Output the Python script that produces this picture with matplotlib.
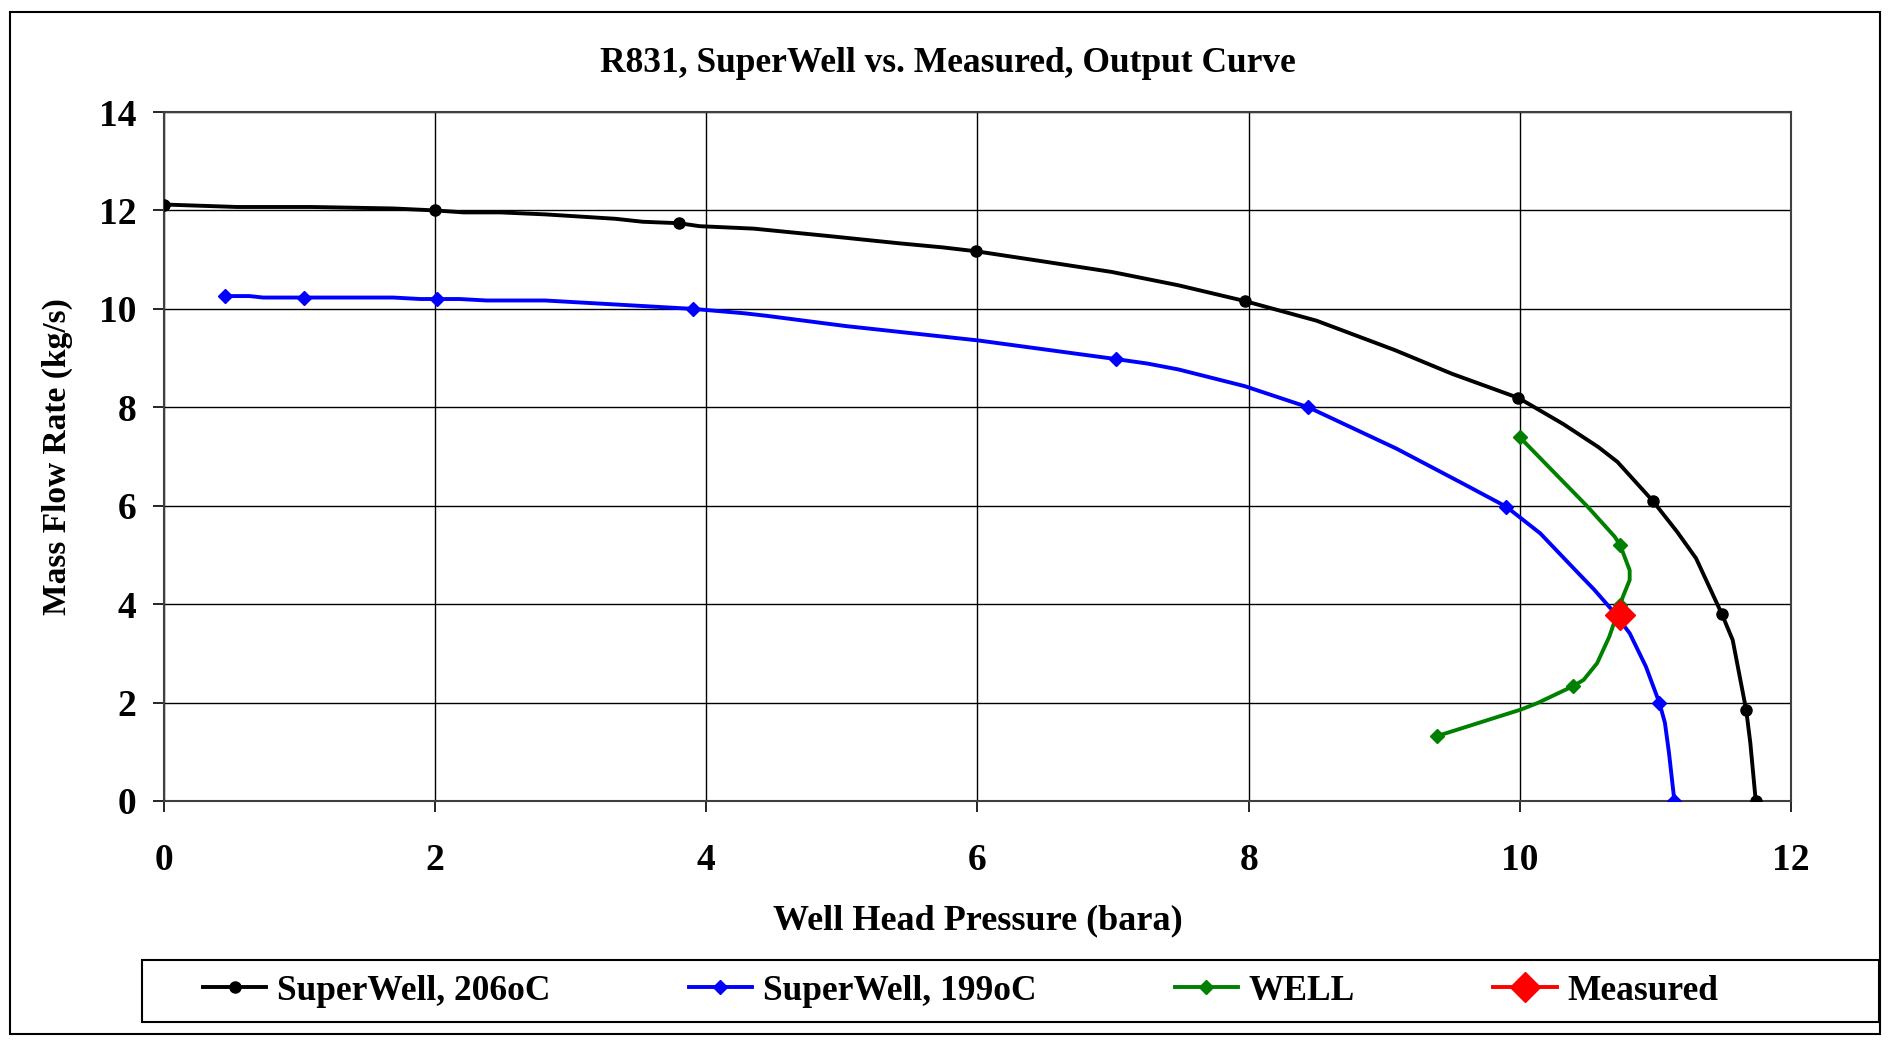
import matplotlib.pyplot as plt
from matplotlib.patches import Rectangle

plt.rcParams['font.family'] = ['Liberation Serif', 'DejaVu Serif']
plt.rcParams['font.weight'] = 'bold'

# SuperWell, 206oC (smoothed line points, markers at selected indices)
sw206_x = [0.0, 0.54, 1.09, 1.69, 2.0, 2.21, 2.48, 2.81, 3.33, 3.53, 3.80, 3.95, 4.35, 4.9, 5.43,
           5.74, 5.99, 6.47, 6.99, 7.48, 7.97, 8.50, 9.08, 9.5, 9.99, 10.32, 10.58, 10.72, 10.98,
           11.16, 11.30, 11.49, 11.57, 11.67, 11.70, 11.74]
sw206_y = [12.12, 12.07, 12.07, 12.04, 12.0, 11.96, 11.96, 11.92, 11.83, 11.77, 11.74, 11.68, 11.63,
           11.48, 11.33, 11.25, 11.17, 10.97, 10.75, 10.48, 10.16, 9.76, 9.16, 8.68, 8.19, 7.66,
           7.19, 6.89, 6.10, 5.47, 4.93, 3.80, 3.27, 1.84, 1.18, 0.0]
sw206_marks = [0, 4, 10, 16, 20, 24, 28, 31, 33, 35]

# SuperWell, 199oC
sw199_x = [0.45, 0.63, 0.73, 1.03, 1.69, 1.89, 2.01, 2.18, 2.38, 2.81, 3.9, 4.28, 4.44, 5.03, 6.0,
           7.02, 7.25, 7.48, 7.97, 8.44, 9.09, 9.58, 9.90, 10.15, 10.41, 10.55, 10.68, 10.81,
           10.93, 11.03, 11.07, 11.10, 11.14]
sw199_y = [10.26, 10.26, 10.23, 10.23, 10.23, 10.2, 10.2, 10.2, 10.17, 10.17, 10.0, 9.91, 9.86,
           9.65, 9.36, 8.98, 8.89, 8.77, 8.43, 8.0, 7.16, 6.45, 5.98, 5.44, 4.69, 4.29, 3.88,
           3.41, 2.73, 1.99, 1.59, 0.98, 0.0]
sw199_marks = [0, 3, 6, 10, 15, 19, 22, 29, 32]

# WELL
well_x = [10.0, 10.5, 10.70, 10.74, 10.81, 10.81, 10.76, 10.74, 10.66, 10.57, 10.47, 10.39,
          10.13, 10.01, 9.39]
well_y = [7.39, 5.98, 5.37, 5.20, 4.69, 4.49, 4.15, 3.98, 3.34, 2.80, 2.46, 2.33, 1.99, 1.86, 1.32]
well_marks = [0, 3, 7, 11, 14]

# Measured
meas_x = [10.74]
meas_y = [3.78]

W, H = 1889, 1041
fig = plt.figure(figsize=(W / 100, H / 100), dpi=100)
ax = fig.add_axes([164 / W, 1 - 801 / H, (1791 - 164) / W, (801 - 112) / H])

ax.plot(sw206_x, sw206_y, color='black', lw=2.8, marker='o', ms=8,
        markevery=sw206_marks, label='SuperWell, 206oC', zorder=3)
ax.plot(sw199_x, sw199_y, color='blue', lw=2.8, marker='D', ms=7.5,
        markevery=sw199_marks, label='SuperWell, 199oC', zorder=3)
ax.plot(well_x, well_y, color='green', lw=2.8, marker='D', ms=7.5,
        markevery=well_marks, label='WELL', zorder=3)
ax.plot(meas_x, meas_y, color='red', lw=2.8, marker='D', ms=15, ls='-',
        label='Measured', zorder=4)

ax.set_xlim(0, 12)
ax.set_ylim(0, 14)
ax.set_xticks(range(0, 13, 2))
ax.set_yticks(range(0, 15, 2))
ax.grid(True, color='black', lw=1.0)
ax.set_axisbelow(True)
for s in ax.spines.values():
    s.set_color('#404040')
    s.set_linewidth(1.5)
ax.tick_params(labelsize=27, length=8, width=1.2)
ax.tick_params(axis='x', pad=22)
ax.tick_params(axis='y', pad=12)
for lab in ax.get_xticklabels() + ax.get_yticklabels():
    lab.set_fontweight('bold')

ax.set_xlabel('Well Head Pressure (bara)', fontsize=26, fontweight='bold')
ax.set_ylabel('Mass Flow Rate (kg/s)', fontsize=24, fontweight='bold')
ax.xaxis.set_label_coords(0.5, -0.150)
ax.yaxis.set_label_coords(-0.056, 0.5)
fig.text(948 / W, 1 - 64 / H, 'R831, SuperWell vs. Measured, Output Curve',
         ha='center', va='center', fontsize=25.5, fontweight='bold')

leg = fig.legend(loc='center left', ncol=4, bbox_to_anchor=(185 / W, 1 - 991 / H),
                 frameon=False, fontsize=25.5, borderpad=0, handlelength=1.8,
                 handletextpad=0.3, columnspacing=3.9)
for t in leg.get_texts():
    t.set_fontweight('bold')

# legend box and outer chart border
fig.patches.append(Rectangle((142 / W, 1 - 1022 / H), (1879 - 142) / W, 62 / H,
                             transform=fig.transFigure, fill=False, edgecolor='black', lw=1.5))
fig.patches.append(Rectangle((10 / W, 1 - 1034 / H), 1870 / W, 1022 / H,
                             transform=fig.transFigure, fill=False, edgecolor='black', lw=1.5))

fig.savefig('out.png', dpi=100)
